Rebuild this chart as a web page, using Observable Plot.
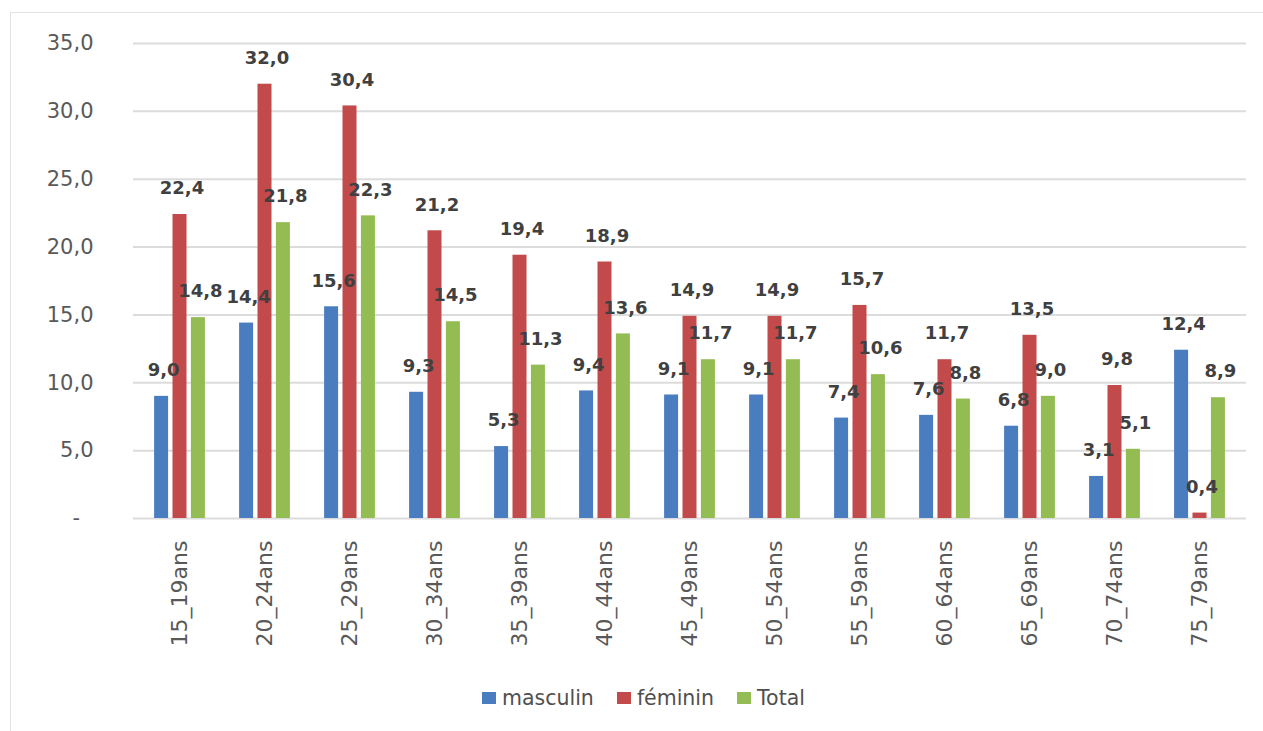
<!DOCTYPE html>
<html><head><meta charset="utf-8">
<script src="https://cdn.jsdelivr.net/npm/d3@7"></script>
<script src="https://cdn.jsdelivr.net/npm/@observablehq/plot@0.6"></script>
<style>
body{margin:0;background:#fff;font-family:"DejaVu Sans",sans-serif;}
#wrap{position:relative;width:1263px;height:731px;overflow:hidden;background:#fff;}
#frame{position:absolute;left:10px;top:12px;width:1300px;height:800px;border:1px solid #e3e3e3;box-sizing:border-box;}
#chart{position:absolute;left:0;top:0;}
#legend{position:absolute;left:482px;top:686px;display:flex;gap:23px;font-size:20.5px;color:#505050;}
.item{display:flex;align-items:center;gap:6px}
.sw{width:14px;height:12px;display:inline-block}
</style></head>
<body>
<div id="wrap"><div id="frame"></div><div id="chart"></div><div id="legend"></div></div>
<script>
const categories = ["15_19ans","20_24ans","25_29ans","30_34ans","35_39ans","40_44ans","45_49ans","50_54ans","55_59ans","60_64ans","65_69ans","70_74ans","75_79ans"];
const masculin = [9.0, 14.4, 15.6, 9.3, 5.3, 9.4, 9.1, 9.1, 7.4, 7.6, 6.8, 3.1, 12.4];
const feminin  = [22.4, 32.0, 30.4, 21.2, 19.4, 18.9, 14.9, 14.9, 15.7, 11.7, 13.5, 9.8, 0.4];
const total    = [14.8, 21.8, 22.3, 14.5, 11.3, 13.6, 11.7, 11.7, 10.6, 8.8, 9.0, 5.1, 8.9];
const seriesNames = ["masculin", "féminin", "Total"];
const seriesValues = [masculin, feminin, total];
const colors = ["#4A7DC0", "#C24A4A", "#93BC52"];
const yTicks = [0, 5, 10, 15, 20, 25, 30, 35];

const offsets = [-18.4, 0, 18.4];
const fmt = v => v.toFixed(1).replace(".", ",");

const marks = [Plot.ruleY(yTicks, {stroke: "#dcdcdc", strokeWidth: 2})];
seriesNames.forEach((name, k) => {
  const rows = categories.map((c, i) => ({cat: c, v: seriesValues[k][i]}));
  marks.push(Plot.barY(rows, {x: "cat", y: "v", fill: colors[k], insetLeft: 35.5, insetRight: 35.5, dx: offsets[k]}));
});
seriesNames.forEach((name, k) => {
  const rows = categories.map((c, i) => ({cat: c, v: seriesValues[k][i]}));
  marks.push(Plot.text(rows, {x: "cat", y: "v", text: d => fmt(d.v), dx: offsets[k] + 2, dy: -26, fontSize: 18, fontWeight: "bold", fill: "#404040"}));
});
marks.push(Plot.axisY({ticks: yTicks, tickSize: 0, tickPadding: 40, fontSize: 21, fill: "#595959",
  tickFormat: d => d === 0 ? "-\u00a0\u00a0" : fmt(d)}));
marks.push(Plot.axisX({tickRotate: -90, tickSize: 0, tickPadding: 22, fontSize: 22, fill: "#595959"}));

const chart = Plot.plot({
  width: 1263, height: 680,
  marginTop: 43, marginBottom: 162, marginLeft: 133, marginRight: 17,
  style: {fontFamily: "DejaVu Sans", background: "transparent", color: "#595959"},
  x: {domain: categories, padding: 0, label: null},
  y: {domain: [0, 35], label: null},
  marks
});
document.getElementById("chart").appendChild(chart);

const legend = document.getElementById("legend");
seriesNames.forEach((name, k) => {
  const it = document.createElement("div"); it.className = "item";
  const sw = document.createElement("span"); sw.className = "sw"; sw.style.background = colors[k];
  const tx = document.createElement("span"); tx.textContent = name;
  it.appendChild(sw); it.appendChild(tx); legend.appendChild(it);
});
</script>
</body></html>
